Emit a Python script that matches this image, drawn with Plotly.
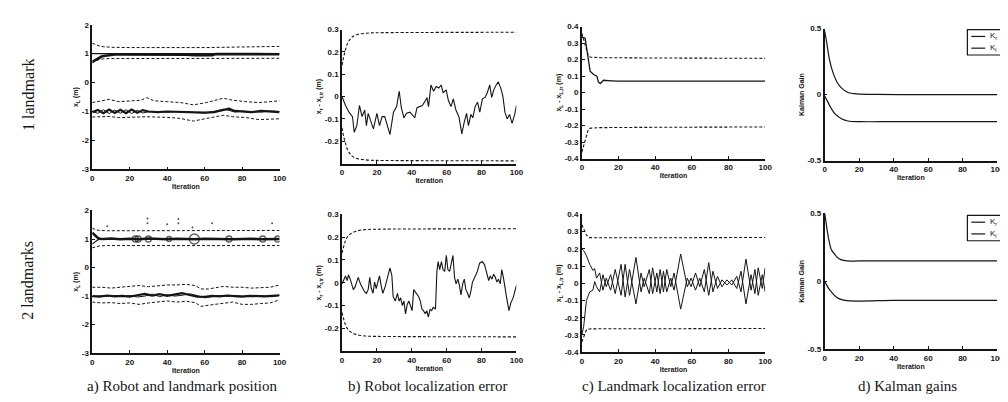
import plotly.graph_objects as go

W, H = 1008, 402
INK = "#151515"

# ---------------- data ----------------
# a) row 1 : one landmark
a1_lm_iter = [0, 1, 2, 3, 4, 5, 6, 7, 8, 10, 12, 15, 20, 30, 40, 50, 55, 64, 66, 70, 80, 90, 100]
a1_lm_est = [0.72, 0.76, 0.8, 0.84, 0.87, 0.9, 0.92, 0.93, 0.95, 0.96, 0.97, 0.97, 0.97, 0.98, 0.97, 0.96, 0.95, 0.95, 0.99, 0.99, 0.98, 0.99, 0.98]
a1_lm_true_iter = [0, 100]
a1_lm_true = [1.0, 1.0]
a1_lmb_iter = [0, 2, 4, 6, 10, 20, 40, 60, 80, 100]
a1_lm_up = [1.36, 1.3, 1.26, 1.24, 1.22, 1.21, 1.2, 1.21, 1.23, 1.25]
a1_lm_lo = [0.68, 0.76, 0.8, 0.82, 0.83, 0.83, 0.84, 0.83, 0.84, 0.84]

a1_rb_iter = [0, 3, 6, 9, 12, 15, 18, 21, 24, 27, 30, 35, 40, 45, 50, 55, 60, 65, 70, 73, 76, 80, 85, 90, 95, 100]
a1_rb_est = [-1.02, -0.95, -1.06, -0.93, -1.05, -0.94, -1.06, -0.93, -1.04, -0.95, -1.0, -1.02, -1.0, -1.01, -1.03, -1.05, -1.04, -1.02, -0.95, -0.9, -0.98, -1.0, -1.02, -0.98, -1.0, -1.02]
a1_rb_true = [-1.0, -1.06, -0.94, -1.07, -0.95, -1.06, -0.94, -1.07, -0.96, -1.05, -1.01, -1.0, -1.02, -1.0, -1.02, -1.03, -1.05, -1.0, -0.92, -0.96, -1.02, -0.99, -1.0, -1.02, -0.98, -1.0]
a1_rbb_iter = [0, 5, 9, 14, 21, 26, 29, 33, 40, 47, 54, 61, 70, 75, 82, 89, 95, 100]
a1_rb_up = [-0.69, -0.62, -0.58, -0.66, -0.63, -0.61, -0.52, -0.63, -0.66, -0.69, -0.77, -0.69, -0.54, -0.61, -0.66, -0.69, -0.66, -0.63]
a1_rb_lo = [-1.19, -1.18, -1.17, -1.21, -1.19, -1.17, -1.18, -1.19, -1.2, -1.24, -1.33, -1.24, -1.13, -1.18, -1.21, -1.28, -1.27, -1.25]

# a) row 2 : two landmarks
a2_lm_iter = [0, 1, 2, 3, 4, 6, 10, 15, 20, 25, 30, 35, 40, 45, 50, 55, 60, 65, 70, 75, 80, 85, 90, 95, 100]
a2_lm1 = [1.22, 1.15, 1.09, 1.04, 1.01, 1.0, 1.02, 0.99, 1.01, 0.99, 1.02, 1.0, 0.99, 1.01, 1.0, 0.99, 1.01, 1.0, 1.01, 0.99, 1.0, 1.01, 0.99, 1.0, 1.0]
a2_lm2 = [0.82, 0.88, 0.93, 0.97, 0.99, 1.01, 0.99, 1.01, 0.99, 1.01, 0.99, 1.01, 1.01, 0.99, 1.01, 1.01, 0.99, 1.01, 0.99, 1.01, 1.0, 0.99, 1.01, 1.0, 1.0]
a2_circ_iter = [23, 24.5, 30, 41, 54.5, 73, 91, 99]
a2_circ_val = [1.0, 1.0, 1.0, 1.0, 1.0, 1.0, 1.0, 1.0]
a2_circ_size = [6, 6, 6, 5, 10, 6, 6, 6]
a2_out_iter = [8, 29.5, 29.5, 40, 46, 46, 53.5, 64, 96]
a2_out_val = [1.45, 1.72, 1.55, 1.52, 1.7, 1.55, 1.4, 1.55, 1.55]
a2_lmb_iter = [0, 2, 4, 8, 20, 40, 60, 80, 100]
a2_lm_up = [1.38, 1.32, 1.3, 1.29, 1.29, 1.29, 1.3, 1.29, 1.3]
a2_lm_lo = [0.69, 0.73, 0.76, 0.77, 0.77, 0.77, 0.76, 0.77, 0.77]

a2_rb_iter = [0, 4, 8, 12, 16, 20, 24, 28, 32, 36, 40, 44, 48, 52, 56, 60, 64, 68, 72, 76, 80, 84, 88, 92, 96, 100]
a2_rb_est = [-1.0, -1.02, -0.98, -1.01, -0.99, -1.02, -0.97, -0.92, -0.98, -0.93, -0.99, -0.95, -0.9, -0.96, -1.02, -1.03, -0.99, -1.01, -0.98, -1.0, -1.02, -0.99, -1.0, -1.01, -0.99, -0.97]
a2_rb_true = [-1.02, -0.99, -1.01, -0.98, -1.02, -0.98, -1.03, -1.0, -0.93, -1.02, -0.95, -1.0, -0.97, -0.92, -0.98, -1.06, -1.02, -0.98, -1.01, -0.99, -1.0, -1.01, -0.98, -1.0, -1.02, -0.98]
a2_rbb_iter = [0, 5, 10, 15, 20, 25, 30, 35, 40, 45, 50, 55, 58, 62, 65, 70, 75, 80, 85, 90, 95, 100]
a2_rb_up = [-0.69, -0.69, -0.72, -0.69, -0.66, -0.63, -0.67, -0.63, -0.61, -0.61, -0.59, -0.63, -0.75, -0.75, -0.71, -0.66, -0.69, -0.69, -0.72, -0.71, -0.69, -0.61]
a2_rb_lo = [-1.21, -1.24, -1.23, -1.26, -1.24, -1.29, -1.24, -1.21, -1.17, -1.21, -1.18, -1.23, -1.36, -1.32, -1.29, -1.24, -1.21, -1.29, -1.29, -1.26, -1.24, -1.13]

# b) robot localization error
b1_iter = [0, 2, 4, 6, 7, 8.5, 10, 11.5, 13, 14, 15, 16.5, 18, 20, 21.5, 23, 24.5, 26, 27.5, 29.5, 31.3, 32.8, 34, 35.5, 37, 39, 40.3, 41.7, 43, 44.5, 46, 47.3, 48.7, 49.6, 51, 52.5, 54, 55.5, 56.8, 58, 59.7, 61, 62.5, 63.8, 65.3, 67, 68.7, 70, 71.4, 72.5, 73.9, 75, 76.3, 77.7, 79, 80.5, 82, 83.3, 84.7, 85.8, 87, 88.4, 89.6, 91, 92.2, 93.4, 94.7, 96, 97.5, 99, 100]
b1_err = [0, -0.04, -0.07, -0.09, -0.16, -0.13, -0.04, -0.09, -0.06, -0.13, -0.075, -0.11, -0.145, -0.075, -0.13, -0.09, -0.09, -0.13, -0.17, -0.07, -0.045, 0.024, -0.05, -0.095, -0.075, -0.07, -0.08, -0.095, -0.05, -0.045, -0.04, -0.025, -0.005, -0.045, 0.052, 0.024, 0.045, 0.038, 0.052, 0.017, 0.03, -0.018, -0.045, -0.01, -0.06, -0.09, -0.167, -0.117, -0.075, -0.13, -0.08, -0.095, -0.045, -0.025, -0.07, -0.01, -0.004, 0.017, 0.052, -0.004, 0.03, 0.052, 0.066, 0.038, 0.003, -0.07, -0.1, -0.08, -0.12, -0.08, -0.04]
b1_bnd_iter = [0, 1, 2, 3, 4, 5, 6, 8, 10, 13, 16, 20, 100]
b1_up = [0.14, 0.18, 0.21, 0.235, 0.25, 0.26, 0.268, 0.276, 0.28, 0.283, 0.285, 0.286, 0.288]
b1_lo = [-0.14, -0.18, -0.21, -0.235, -0.25, -0.26, -0.268, -0.276, -0.28, -0.283, -0.285, -0.286, -0.288]

b2_iter = [0, 1, 2, 3, 3.7, 4.7, 5.6, 6.5, 7.5, 8.4, 9.3, 10.6, 11.8, 13, 14, 15, 15.9, 16.8, 17.8, 18.7, 19.6, 20.6, 21.5, 22.4, 23.4, 24.7, 26.2, 27.5, 28.6, 29.3, 30.5, 31.8, 32.7, 33.6, 34.6, 35.5, 36.4, 37.4, 38.3, 39.3, 40.2, 41.1, 42.4, 43.9, 44.9, 45.8, 46.7, 47.7, 48.6, 49.5, 50.5, 51.4, 52.3, 53.6, 54.4, 55.1, 56, 57, 57.9, 58.9, 59.8, 60.7, 61.7, 62.6, 63.6, 64.5, 65.4, 66.4, 67.3, 68.2, 69.2, 70.1, 71, 72, 72.9, 73.8, 74.8, 76.1, 77.6, 78.9, 80.4, 81.7, 82.8, 84.1, 85, 86, 86.9, 87.9, 88.8, 89.7, 90.7, 91.6, 92.5, 93.5, 94.4, 95.7, 96.8, 98.1, 99, 100]
b2_err = [-0.005, 0.016, 0.03, 0.01, 0.035, 0.016, -0.005, -0.03, -0.018, 0.003, 0.024, -0.005, -0.025, -0.04, -0.046, -0.03, 0.024, -0.025, -0.046, 0.003, -0.025, 0.01, 0.03, -0.011, -0.046, -0.018, 0.03, 0.065, 0.03, -0.06, -0.08, -0.046, -0.08, -0.066, -0.1, -0.08, -0.136, -0.095, -0.08, -0.1, -0.122, -0.03, -0.046, -0.06, -0.08, -0.115, -0.122, -0.136, -0.122, -0.15, -0.115, -0.122, -0.108, -0.115, 0.05, 0.093, 0.058, 0.093, 0.058, 0.05, 0.12, 0.058, 0.05, 0.086, 0.12, 0.024, -0.005, 0.016, -0.011, -0.053, -0.005, 0.016, -0.03, -0.046, -0.066, -0.04, 0.003, 0.024, 0.05, 0.086, 0.093, 0.08, 0.045, 0.01, 0.03, 0.016, 0.038, 0.024, 0.003, 0.016, -0.005, 0.058, 0.024, -0.03, -0.066, -0.122, -0.088, -0.066, -0.04, -0.011]
b2_bnd_iter = [0, 1, 2, 3, 4, 5, 6, 8, 10, 12, 15, 20, 100]
b2_up = [0.13, 0.16, 0.185, 0.2, 0.21, 0.215, 0.22, 0.226, 0.23, 0.232, 0.234, 0.235, 0.237]
b2_lo = [-0.13, -0.16, -0.185, -0.2, -0.21, -0.215, -0.22, -0.226, -0.23, -0.232, -0.234, -0.235, -0.237]

# c) landmark localization error
c1_iter = [0, 0.5, 1.8, 2.7, 3.6, 4.5, 6.4, 8.2, 9, 10, 11.8, 14, 16, 20, 30, 40, 50, 60, 70, 80, 90, 100]
c1_err = [0.34, 0.335, 0.33, 0.26, 0.19, 0.13, 0.11, 0.1, 0.065, 0.055, 0.075, 0.075, 0.072, 0.07, 0.07, 0.072, 0.07, 0.07, 0.07, 0.07, 0.069, 0.07]
c1_bnd_iter = [0, 0.5, 1.8, 2.7, 3.6, 5, 10, 40, 100]
c1_up = [0.36, 0.34, 0.28, 0.24, 0.22, 0.215, 0.212, 0.21, 0.208]
c1_lo = [-0.36, -0.34, -0.28, -0.24, -0.22, -0.215, -0.212, -0.21, -0.208]

c2_iter = [0, 1, 2.5, 4.3, 6, 7, 8, 9.7, 11.5, 13.3, 15.7, 18.2, 21.4, 23.6, 26, 29.5, 32.3, 34, 36.8, 38.6, 40.9, 42.7, 44.5, 46.3, 48.5, 50.3, 53.9, 57.5, 59.6, 62, 64.3, 66.8, 69.2, 71.5, 74, 76.4, 79.1, 81.8, 84.5, 86.8, 89.5, 92.3, 94.4, 96.2, 98.4, 100]
c2_lm1 = [0.2, 0.19, 0.16, 0.11, 0.075, 0.085, 0.03, 0.06, -0.04, 0.03, -0.04, 0.08, -0.07, 0.11, -0.07, 0.15, -0.05, 0.03, -0.06, 0.09, -0.05, 0.08, -0.05, 0.08, -0.02, 0.06, -0.15, 0.03, -0.02, 0.06, -0.02, 0.08, -0.07, 0.07, -0.03, 0.02, -0.01, 0.02, -0.03, 0.07, -0.12, 0.05, -0.06, 0.09, -0.03, 0.09]
c2_lm2 = [-0.3, -0.25, -0.1, -0.05, -0.04, 0.01, -0.02, -0.05, 0.05, -0.02, 0.05, -0.06, 0.11, -0.08, 0.08, -0.12, 0.06, -0.02, 0.08, -0.06, 0.06, -0.06, 0.07, -0.05, 0.03, -0.04, 0.17, -0.02, 0.03, -0.04, 0.03, -0.05, 0.12, -0.05, 0.04, -0.02, 0.02, -0.01, 0.04, -0.05, 0.14, -0.04, 0.08, -0.07, 0.05, -0.05]
c2_bnd_iter = [0, 0.7, 2.5, 4, 10, 40, 70, 100]
c2_up = [0.34, 0.32, 0.28, 0.265, 0.264, 0.264, 0.263, 0.266]
c2_lo = [-0.34, -0.32, -0.27, -0.265, -0.264, -0.264, -0.263, -0.262]

# d) Kalman gains
d1_kr_iter = [0, 1, 2.7, 4.5, 7.2, 10, 13.5, 17, 20, 30, 50, 70, 100]
d1_kr = [0.48, 0.41, 0.27, 0.18, 0.094, 0.047, 0.016, 0.007, 0.003, 0.002, 0.0, 0.0, 0.0]
d1_kl_iter = [0, 1.8, 3.6, 6.3, 10, 13.5, 20, 40, 60, 80, 100]
d1_kl = [-0.01, -0.055, -0.1, -0.15, -0.185, -0.2, -0.205, -0.205, -0.205, -0.205, -0.205]
d2_kr_iter = [0, 0.4, 1.3, 2.5, 4, 5.8, 7, 9.4, 13, 20, 40, 60, 80, 100]
d2_kr = [0.5, 0.47, 0.39, 0.3, 0.23, 0.2, 0.18, 0.16, 0.15, 0.15, 0.15, 0.15, 0.15, 0.15]
d2_kl_iter = [0, 0.4, 2, 4, 6.7, 9.4, 13, 20, 40, 60, 80, 100]
d2_kl = [-0.005, -0.01, -0.046, -0.08, -0.115, -0.133, -0.142, -0.145, -0.14, -0.14, -0.14, -0.14]
gain_names = ["K<sub>r</sub>", "K<sub>l</sub>"]

x_ticks = [0, 20, 40, 60, 80, 100]
a_ticks = [-3, -2, -1, 0, 1, 2]
b_ticks = [-0.2, -0.1, 0, 0.1, 0.2, 0.3]
c_ticks = [-0.4, -0.3, -0.2, -0.1, 0, 0.1, 0.2, 0.3, 0.4]
d_ticks = [-0.5, 0, 0.5]
captions = ["a) Robot and landmark position", "b) Robot localization error",
            "c) Landmark localization error", "d) Kalman gains"]
row_labels = ["1 landmark", "2 landmarks"]

# ---------------- figure ----------------
fig = go.Figure()


def lines(k, x, y, width=1.0, dash="solid", shape="linear"):
    fig.add_trace(go.Scatter(
        x=x, y=y, xaxis="x" + k, yaxis="y" + k, mode="lines",
        line=dict(color=INK, width=width, dash=dash, shape=shape),
        showlegend=False, hoverinfo="skip"))


DASH = "3px,2px"

# panel ids: row1 a,b,c,d = "",2,3,4 ; row2 = 5,6,7,8
# a1
lines("", a1_lm_true_iter, a1_lm_true, 1.2)
lines("", a1_lm_iter, a1_lm_est, 2.6)
lines("", a1_lmb_iter, a1_lm_up, 1, DASH)
lines("", a1_lmb_iter, a1_lm_lo, 1, DASH)
lines("", a1_rb_iter, a1_rb_true, 1)
lines("", a1_rb_iter, a1_rb_est, 2.2)
lines("", a1_rbb_iter, a1_rb_up, 1, DASH)
lines("", a1_rbb_iter, a1_rb_lo, 1, DASH)
# a2
lines("5", a2_lm_iter, a2_lm2, 1.2)
lines("5", a2_lm_iter, a2_lm1, 2.6)
lines("5", a2_lmb_iter, a2_lm_up, 1, DASH)
lines("5", a2_lmb_iter, a2_lm_lo, 1, DASH)
lines("5", a2_rb_iter, a2_rb_true, 1)
lines("5", a2_rb_iter, a2_rb_est, 2.2)
lines("5", a2_rbb_iter, a2_rb_up, 1, DASH)
lines("5", a2_rbb_iter, a2_rb_lo, 1, DASH)
fig.add_trace(go.Scatter(x=a2_circ_iter, y=a2_circ_val, xaxis="x5", yaxis="y5", mode="markers",
                         marker=dict(symbol="circle-open", size=a2_circ_size, color=INK, line=dict(width=1.3)),
                         showlegend=False, hoverinfo="skip"))
fig.add_trace(go.Scatter(x=a2_out_iter, y=a2_out_val, xaxis="x5", yaxis="y5", mode="markers",
                         marker=dict(symbol="circle", size=2, color="#555555"),
                         showlegend=False, hoverinfo="skip"))
# b
lines("2", b1_bnd_iter, b1_up, 1.1, DASH, "spline")
lines("2", b1_bnd_iter, b1_lo, 1.1, DASH, "spline")
lines("2", b1_iter, b1_err, 1.1)
lines("6", b2_bnd_iter, b2_up, 1.1, DASH, "spline")
lines("6", b2_bnd_iter, b2_lo, 1.1, DASH, "spline")
lines("6", b2_iter, b2_err, 1.1)
# c
lines("3", c1_bnd_iter, c1_up, 1.1, DASH)
lines("3", c1_bnd_iter, c1_lo, 1.1, DASH)
lines("3", c1_iter, c1_err, 1.3)
lines("7", c2_bnd_iter, c2_up, 1.1, DASH)
lines("7", c2_bnd_iter, c2_lo, 1.1, DASH)
lines("7", c2_iter, c2_lm1, 1.0)
lines("7", c2_iter, c2_lm2, 1.0)
# d
lines("4", d1_kr_iter, d1_kr, 1.2, shape="spline")
lines("4", d1_kl_iter, d1_kl, 1.2, shape="spline")
lines("8", d2_kr_iter, d2_kr, 1.2, shape="spline")
lines("8", d2_kl_iter, d2_kl, 1.2, shape="spline")

# ---------------- axes ----------------
TICKFONT = dict(family="Liberation Sans, Arial, sans-serif", size=8, color=INK, weight="bold")
TITLEFONT = dict(family="Liberation Sans, Arial, sans-serif", size=7, color=INK, weight="bold")

panels = [
    # key, x px span, y px span, y range, y ticks, y title
    ("", (83, 272), (13, 161), (-3, 2), a_ticks, "x<sub>L</sub> (m)"),
    ("2", (335, 511), (18, 155), (-0.3, 0.3), b_ticks, "x<sub>r</sub> - x<sub>r,tr</sub> (m)"),
    ("3", (577, 762), (15, 150), (-0.4, 0.4), c_ticks, "x<sub>L</sub> - x<sub>L,tr</sub> (m)"),
    ("4", (822, 996), (17, 152), (-0.5, 0.5), d_ticks, "Kalman Gain"),
    ("5", (83, 272), (203, 349), (-3, 2), a_ticks, "x<sub>L</sub> (m)"),
    ("6", (335, 511), (207, 347), (-0.3, 0.3), b_ticks, "x<sub>r</sub> - x<sub>r,tr</sub> (m)"),
    ("7", (577, 762), (207, 348), (-0.4, 0.4), c_ticks, "x<sub>L</sub> - x<sub>L,tr</sub> (m)"),
    ("8", (822, 996), (206, 345), (-0.5, 0.5), d_ticks, "Kalman Gain"),
]


def fmt(v):
    return "0" if v == 0 else "%g" % v


layout = {}
for k, (x0, x1), (ytop, ybot), yr, yt, ytitle in panels:
    layout["xaxis" + k] = dict(
        domain=[x0 / W, x1 / W], range=[0, 100], anchor="y" + k,
        tickvals=x_ticks, ticktext=[str(v) for v in x_ticks],
        ticks="inside", ticklen=3, tickwidth=1, tickcolor=INK,
        showline=True, linecolor=INK, linewidth=1.6, mirror=False,
        showgrid=False, zeroline=False, tickfont=TICKFONT,
        title=dict(text="Iteration", font=TITLEFONT, standoff=0))
    layout["yaxis" + k] = dict(
        domain=[1 - ybot / H, 1 - ytop / H], range=list(yr), anchor="x" + k,
        tickvals=yt, ticktext=[fmt(v) for v in yt],
        ticks="inside", ticklen=3, tickwidth=1, tickcolor=INK,
        showline=True, linecolor=INK, linewidth=1.6, mirror=False,
        showgrid=False, zeroline=False, tickfont=TICKFONT,
        title=dict(text=ytitle, font=TITLEFONT, standoff=2))

annotations = []
shapes = []
SERIF = dict(family="Liberation Serif, Times New Roman, serif", size=15, color=INK)
SERIF_ROW = dict(family="Liberation Serif, Times New Roman, serif", size=16, color=INK)
cap_x = [174, 422, 670, 906]
for cx, txt in zip(cap_x, captions):
    annotations.append(dict(text=txt, x=cx / W, y=1 - 383 / H, xref="paper", yref="paper",
                            showarrow=False, xanchor="center", yanchor="middle", font=SERIF))
for cy, txt in zip([85, 274], row_labels):
    annotations.append(dict(text=txt, x=18 / W, y=1 - cy / H, xref="paper", yref="paper",
                            showarrow=False, textangle=-90, xanchor="center", yanchor="middle", font=SERIF_ROW))

# compact legend boxes (as in the original figure) for the Kalman-gain panels
for top in (18, 208):
    shapes.append(dict(type="rect", xref="paper", yref="paper",
                       x0=966 / W, x1=1004 / W, y0=1 - (top + 26) / H, y1=1 - top / H,
                       line=dict(color=INK, width=1.2), fillcolor="white", layer="above"))
    for j, nm in enumerate(gain_names):
        yy = top + 7 + j * 12
        shapes.append(dict(type="line", xref="paper", yref="paper",
                           x0=970 / W, x1=984 / W, y0=1 - yy / H, y1=1 - yy / H,
                           line=dict(color=INK, width=1.2), layer="above"))
        annotations.append(dict(text=nm, x=987 / W, y=1 - yy / H, xref="paper", yref="paper",
                                showarrow=False, xanchor="left", yanchor="middle",
                                font=dict(family="Liberation Sans, Arial, sans-serif", size=8, color=INK)))

fig.update_layout(
    width=W, height=H, margin=dict(l=0, r=0, t=0, b=0),
    paper_bgcolor="white", plot_bgcolor="white", showlegend=False,
    annotations=annotations, shapes=shapes, **layout)

fig.write_html("out.html")
